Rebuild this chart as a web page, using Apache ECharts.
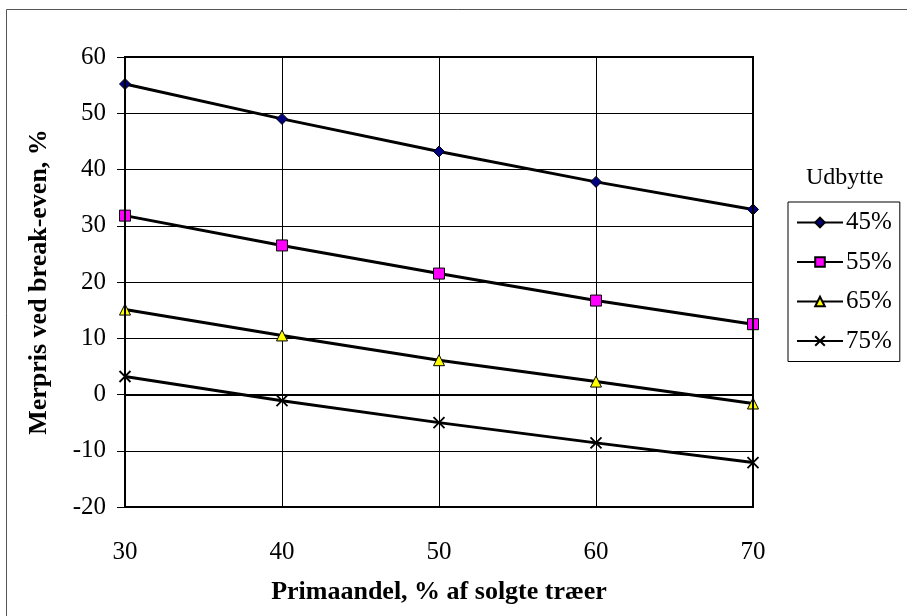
<!DOCTYPE html>
<html>
<head>
<meta charset="utf-8">
<script src="https://cdn.jsdelivr.net/npm/echarts@6/dist/echarts.min.js"></script>
<style>
  html, body { margin: 0; padding: 0; background: #fff; }
  #main { width: 907px; height: 616px; }
</style>
</head>
<body>
<div id="main"></div>
<script>
// x values (Primaandel)
const xVals = [30, 40, 50, 60, 70];
const seriesNames = ["45%", "55%", "65%", "75%"];
const s45 = [55.2, 49.0, 43.2, 37.8, 32.9];
const s55 = [31.8, 26.5, 21.5, 16.7, 12.5];
const s65 = [15.1, 10.5, 6.1, 2.3, -1.6];
const s75 = [3.2, -1.1, -5.0, -8.6, -12.1];

var myChart = echarts.init(document.getElementById("main"));
const serif = "'Liberation Serif', 'DejaVu Serif', serif";

function pts(arr) {
  return xVals.map((x, i) => [x, arr[i]]);
}
function lineSeries(name, data, symbol, size, color, bw) {
  return {
    name: name,
    type: "line",
    data: pts(data),
    symbol: symbol,
    symbolSize: size,
    showAllSymbol: true,
    lineStyle: { color: "#000", width: 3 },
    itemStyle: { color: color, borderColor: "#000", borderWidth: bw || 1 },
    emphasis: { disabled: true },
    z: 3
  };
}
const crossPath = "path://M0,0L10,10M10,0L0,10";

myChart.setOption({
  animation: false,
  title: {
    text: "Udbytte",
    left: 801,
    top: 161,
    textStyle: { fontFamily: serif, fontSize: 24, fontWeight: "normal", color: "#000" }
  },
  legend: {
    orient: "vertical",
    left: 788,
    top: 202,
    width: 115,
    padding: [8, 8, 8, 8],
    itemGap: 14.5,
    itemWidth: 46,
    itemHeight: 12,
    borderColor: "#000",
    borderWidth: 1,
    textStyle: { fontFamily: serif, fontSize: 25, color: "#000", padding: [0, 0, 0, -2], height: 25, lineHeight: 25 },
    data: seriesNames
  },
  grid: { left: 125, top: 57, right: 154, bottom: 109 },
  xAxis: {
    type: "value",
    min: 30,
    max: 70,
    interval: 10,
    name: "Primaandel, % af solgte træer",
    nameLocation: "middle",
    nameGap: 72,
    nameTextStyle: { fontFamily: serif, fontSize: 26, fontWeight: "bold", color: "#000" },
    axisLine: { lineStyle: { color: "#000", width: 2 } },
    axisTick: { show: true, length: 6, lineStyle: { color: "#000" } },
    axisLabel: { fontFamily: serif, fontSize: 25, color: "#000", margin: 33 },
    splitLine: { show: true, lineStyle: { color: "#000", width: 1 } }
  },
  yAxis: {
    type: "value",
    min: -20,
    max: 60,
    interval: 10,
    name: "Merpris ved break-even, %",
    nameLocation: "middle",
    nameGap: 73,
    nameTextStyle: { fontFamily: serif, fontSize: 26, fontWeight: "bold", color: "#000" },
    axisLine: { show: true, lineStyle: { color: "#000", width: 2 } },
    axisTick: { show: true, length: 8, lineStyle: { color: "#000" } },
    axisLabel: { fontFamily: serif, fontSize: 25, color: "#000", margin: 19 },
    splitLine: { show: true, lineStyle: { color: "#000", width: 1 } }
  },
  graphic: [
    {
      type: "rect",
      shape: { x: 6.5, y: 9.5, width: 1000, height: 1000 },
      style: { fill: null, stroke: "#555", lineWidth: 1 },
      silent: true
    },
    {
      type: "rect",
      shape: { x: 125, y: 57, width: 628, height: 450 },
      style: { fill: null, stroke: "#000", lineWidth: 2 },
      silent: true,
      z: 10
    }
  ],
  series: [
    lineSeries("45%", s45, "diamond", 11, "#000080"),
    lineSeries("55%", s55, "rect", 11, "#FF00FF"),
    lineSeries("65%", s65, "triangle", 11, "#FFFF00"),
    lineSeries("75%", s75, crossPath, 11, "#000", 1.8)
  ]
});
</script>
</body>
</html>
